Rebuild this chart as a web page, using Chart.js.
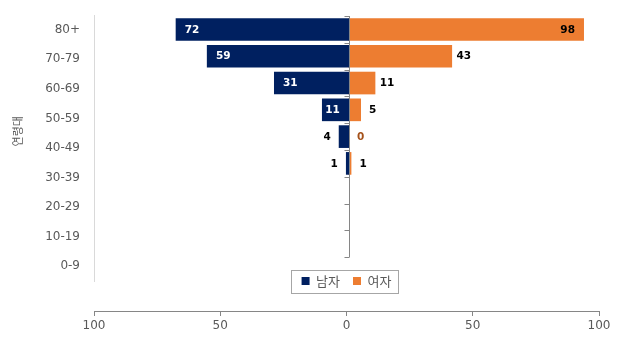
<!DOCTYPE html>
<html>
<head>
<meta charset="utf-8">
<script src="https://cdn.jsdelivr.net/npm/chart.js@4/dist/chart.umd.min.js"></script>
<style>
  html, body { margin: 0; padding: 0; background: #fff; }
  #wrap { width: 621px; height: 338px; }
</style>
</head>
<body>
<div id="wrap"><canvas id="pyramid"></canvas></div>
<script>
// age groups, top to bottom
const ageGroups = ['80+', '70-79', '60-69', '50-59', '40-49', '30-39', '20-29', '10-19', '0-9'];
const axisTitle = '연령대';
const seriesNames = ['남자', '여자'];
const maleCounts = [72, 59, 31, 11, 4, 1, null, null, null];
const femaleCounts = [98, 43, 11, 5, 0, 1, null, null, null];
const xTicks = [-100, -50, 0, 50, 100];

const NAVY = '#002060';
const ORANGE = '#ED7D31';
const GREY_TXT = '#595959';
const AXIS_GREY = '#868686';

Chart.defaults.font.family = 'DejaVu Sans';

// turn a list of counts into bar points (men go left)
function toBars(counts, sign) {
    const out = [];
    counts.forEach((v, i) => {
        if (v === null) return;
        out.push({ x: sign * v, y: i + 0.5, n: v });
    });
    return out;
}

// center axis with tick marks on the left side
const centerAxis = {
    id: 'centerAxis',
    afterDatasetsDraw(chart) {
        const { ctx } = chart;
        const xs = chart.scales.x, ys = chart.scales.y;
        const x0 = Math.round(xs.getPixelForValue(0)) + 0.5;
        ctx.save();
        ctx.strokeStyle = AXIS_GREY;
        ctx.lineWidth = 1;
        ctx.beginPath();
        ctx.moveTo(x0, ys.getPixelForValue(0));
        ctx.lineTo(x0, ys.getPixelForValue(ageGroups.length));
        for (let k = 0; k <= ageGroups.length; k++) {
            const y = Math.round(ys.getPixelForValue(k)) + 0.5;
            ctx.moveTo(x0 - 5, y);
            ctx.lineTo(x0, y);
        }
        ctx.stroke();
        ctx.restore();
    }
};

// value labels, inside the bar end when there is room
const barLabels = {
    id: 'barLabels',
    afterDatasetsDraw(chart) {
        const { ctx, chartArea } = chart;
        ctx.save();
        ctx.font = 'bold 10.5px "DejaVu Sans"';
        ctx.textAlign = 'center';
        ctx.textBaseline = 'middle';
        chart.data.datasets.forEach((ds, di) => {
            const meta = chart.getDatasetMeta(di);
            meta.data.forEach((bar, j) => {
                const n = ds.data[j].n;
                const txt = String(n);
                const tw = ctx.measureText(txt).width;
                const bw = Math.abs(bar.x - bar.base);
                let cx, color = '#000';
                if (di === 0) {
                    if (bw >= tw + 10) {
                        cx = bar.x + Math.min(16, bw / 2 - 3);
                        color = '#fff';
                    } else {
                        cx = bar.x - 12;
                    }
                } else {
                    cx = bar.x + 12;
                    if (cx + tw / 2 > chartArea.right) cx = bar.x - 16;
                    if (n === 0) color = '#A5521B';
                }
                ctx.fillStyle = color;
                ctx.fillText(txt, cx, bar.y + 0.5);
            });
        });
        ctx.restore();
    }
};

// rotated axis title, sits a bit above the middle like the original
const sideTitle = {
    id: 'sideTitle',
    afterDraw(chart) {
        const ctx = chart.ctx;
        const ys = chart.scales.y;
        ctx.save();
        ctx.translate(18, ys.getPixelForValue(4.3));
        ctx.rotate(-Math.PI / 2);
        ctx.font = '11px "Noto Sans CJK KR"';
        ctx.fillStyle = GREY_TXT;
        ctx.textAlign = 'center';
        ctx.textBaseline = 'middle';
        ctx.fillText(axisTitle, 0, 0);
        ctx.restore();
    }
};

// legend sits over the bottom edge of the plot, with a frame
const legendFrame = {
    id: 'legendFrame',
    afterLayout(chart) {
        const lg = chart.legend;
        const h = lg.height;
        lg.top = chart.chartArea.bottom - 13 - 6.5;
        lg.bottom = lg.top + h;
    },
    afterDraw(chart) {
        const boxes = chart.legend.legendHitBoxes;
        if (!boxes || !boxes.length) return;
        const l = Math.min(...boxes.map(b => b.left));
        const r = Math.max(...boxes.map(b => b.left + b.width));
        const t = boxes[0].top;
        const b = t + boxes[0].height;
        const ctx = chart.ctx;
        ctx.save();
        ctx.strokeStyle = '#A6A6A6';
        ctx.lineWidth = 1;
        ctx.strokeRect(Math.round(l - 11) + 0.5, Math.round(t - 5) + 0.5, Math.round(r - l + 17), Math.round(b - t + 10));
        ctx.restore();
    }
};

new Chart(document.getElementById('pyramid'), {
    type: 'bar',
    data: {
        datasets: [
            { label: seriesNames[0], data: toBars(maleCounts, -1), backgroundColor: NAVY, barThickness: 22, grouped: false },
            { label: seriesNames[1], data: toBars(femaleCounts, 1), backgroundColor: ORANGE, barThickness: 22, grouped: false }
        ]
    },
    plugins: [centerAxis, barLabels, sideTitle, legendFrame],
    options: {
        indexAxis: 'y',
        responsive: true,
        maintainAspectRatio: false,
        animation: false,
        layout: { padding: { top: 15, right: 22, bottom: 0, left: 0 } },
        plugins: {
            legend: {
                position: 'bottom',
                fullSize: false,
                maxHeight: 30,
                labels: {
                    boxWidth: 8,
                    boxHeight: 8,
                    padding: 13,
                    color: GREY_TXT,
                    font: { family: '"Noto Sans CJK KR"', size: 13 }
                }
            },
            tooltip: { enabled: false }
        },
        scales: {
            // bars are drawn on a slightly wider hidden scale, as in the original
            x: {
                type: 'linear',
                display: false,
                min: -106.2,
                max: 104.4
            },
            x2: {
                type: 'linear',
                axis: 'x',
                position: 'bottom',
                weight: 2000,
                min: -100,
                max: 100,
                afterBuildTicks: s => { s.ticks = xTicks.map(v => ({ value: v })); },
                afterFit: s => { s.height = 27; },
                grid: { drawOnChartArea: false, drawTicks: true, tickLength: 5, color: AXIS_GREY },
                border: { color: AXIS_GREY },
                ticks: {
                    color: GREY_TXT,
                    font: { size: 12 },
                    padding: 3,
                    maxRotation: 0,
                    callback: v => Math.abs(v)
                }
            },
            y: {
                type: 'linear',
                display: false,
                reverse: true,
                offset: false,
                min: -0.04,
                max: 9.89
            },
            yL: {
                type: 'category',
                axis: 'y',
                position: 'left',
                offset: true,
                labels: ageGroups,
                afterFit: s => { s.width = 94; s.paddingTop = 0; s.paddingBottom = 0; },
                grid: { display: true, drawOnChartArea: false, drawTicks: false },
                border: { color: '#D9D9D9' },
                ticks: { color: GREY_TXT, font: { size: 12 }, padding: 14 }
            }
        }
    }
});
</script>
</body>
</html>
